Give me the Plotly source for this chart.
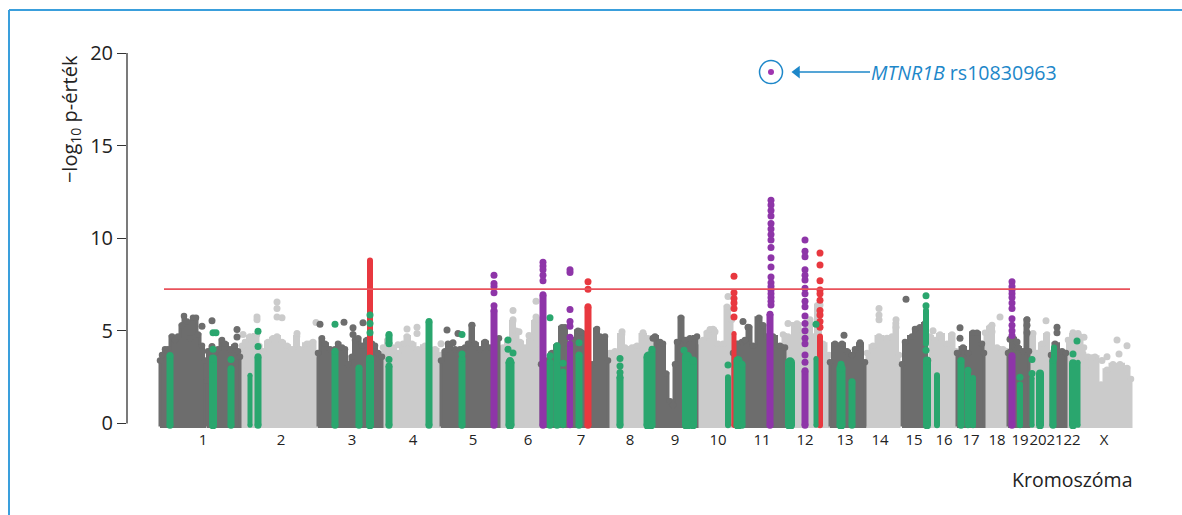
import plotly.graph_objects as go

DARK, LIGHT = "#6d6d6d", "#cbcbcb"
GREEN, PURPLE, RED = "#2aa66e", "#8e35a8", "#e8383f"
BLUE = "#1d87c9"

# --- genome-wide envelope of the association signal per chromosome block (position, -log10 p)
c1a_x = [160,162,165,168,172,175,178,182,184,187,190,193,196,198,202,205]
c1a_y = [3.4,3.7,4.0,4.0,4.7,4.5,4.7,5.3,5.8,5.5,4.6,5.7,5.7,4.8,4.2,3.4]
c1b_x = [207,208,212,215,218,222,225,230,235,238,240]
c1b_y = [2.3,3.9,4.0,3.8,4.0,4.5,4.3,4.0,4.2,3.9,3.6]
c2_x = [241,242,245,250,257,259,263,268,273,277,282,287,292,297,300,307,313,317]
c2_y = [3.0,4.2,4.4,4.7,4.8,4.2,3.9,4.4,4.6,4.7,4.4,4.2,4.0,4.7,4.0,4.3,4.4,3.4]
c3_x = [318,322,325,330,335,338,342,345,348,352,355,358,362,367,372,375,378,382]
c3_y = [3.8,4.6,4.3,4.0,4.0,4.3,4.1,4.0,3.2,3.6,4.5,4.6,4.2,4.5,4.3,4.2,3.8,3.6]
c4_x = [383,388,393,398,403,407,412,418,425,430,435,441]
c4_y = [4.1,4.5,4.1,3.8,4.3,4.7,4.3,4.0,4.2,4.0,4.0,3.7]
c5_x = [441,445,448,455,460,465,468,472,475,480,485,490,495,499]
c5_y = [3.4,3.9,4.3,4.0,4.0,4.1,4.3,5.3,4.3,4.0,4.4,4.1,4.5,4.6]
c6_x = [500,503,508,513,516,520,525,530,535,539,541]
c6_y = [3.9,4.1,4.5,5.5,5.0,4.4,4.1,4.5,5.5,5.6,4.0]
c7_x = [541,547,552,557,562,565,568,573,578,582,587,592,597,600,605,608]
c7_y = [3.2,3.4,3.8,4.2,5.2,5.2,4.3,4.5,5.0,4.9,4.7,3.2,5.1,4.7,4.7,3.4]
c8_x = [608,610,615,622,625,632,637,643,648,653]
c8_y = [3.0,3.8,3.9,4.8,4.1,4.1,4.2,4.8,4.6,4.3]
c9_x = [655,660,663,666,670,673,675,677,681,685,690,697]
c9_y = [4.7,4.4,4.3,2.7,1.2,1.0,3.2,4.4,5.7,4.5,4.6,4.7]
c10_x = [698,703,707,713,718,723,727,732]
c10_y = [4.1,4.5,4.9,5.1,4.3,4.3,6.3,5.6]
c11_x = [733,742,745,749,753,759,763,767,773,780,785]
c11_y = [3.8,4.4,4.5,5.2,4.2,5.7,5.3,4.7,4.7,4.2,4.1]
c12_x = [783,788,797,803,810,813,818,823,829]
c12_y = [4.8,4.7,5.4,5.0,5.4,4.7,6.4,4.3,3.7]
c13_x = [830,835,842,847,852,855,860,865]
c13_y = [3.3,4.3,4.3,3.9,3.7,4.0,4.3,3.3]
c14_x = [867,873,879,887,892,896,899]
c14_y = [3.8,4.2,4.7,4.5,4.7,5.4,3.7]
c15_x = [902,905,912,915,920,925,928]
c15_y = [3.2,4.4,4.7,5.1,5.2,5.4,3.4]
c16_x = [930,935,940,947,952,956]
c16_y = [4.7,4.5,4.8,4.3,4.8,3.9]
c17_x = [957,963,968,973,977,982,984]
c17_y = [3.8,4.1,3.8,4.9,4.9,4.3,3.8]
c18_x = [985,990,997,1003,1007]
c18_y = [4.9,5.2,4.1,4.0,3.9]
c19_x = [1008,1013,1018,1023,1027,1029]
c19_y = [3.8,4.6,4.1,3.9,5.6,3.9]
c20_x = [1030,1032,1037,1042,1047,1050]
c20_y = [3.0,4.8,3.8,4.3,4.8,3.8]
c21_x = [1051,1055,1062,1066]
c21_y = [3.7,4.3,3.9,3.8]
c22_x = [1067,1068,1073,1080,1084]
c22_y = [3.0,4.5,4.8,4.7,4.1]
cX_x = [1085,1088,1095,1101,1107,1113,1120,1127,1131]
cX_y = [3.0,3.6,3.6,2.1,2.9,3.2,3.2,3.0,2.4]

light_blocks = [(c2_x,c2_y),(c4_x,c4_y),(c6_x,c6_y),(c8_x,c8_y),(c10_x,c10_y),(c12_x,c12_y),
                (c14_x,c14_y),(c16_x,c16_y),(c18_x,c18_y),(c20_x,c20_y),(c22_x,c22_y),(cX_x,cX_y)]
dark_blocks = [(c1a_x,c1a_y),(c1b_x,c1b_y),(c3_x,c3_y),(c5_x,c5_y),(c7_x,c7_y),(c9_x,c9_y),
               (c11_x,c11_y),(c13_x,c13_y),(c15_x,c15_y),(c17_x,c17_y),(c19_x,c19_y),(c21_x,c21_y)]

# --- isolated points above the envelope
dark_dots_x = [212,202,237,237,212,320,344,363,353,353,447,453,458,472,580,743,748,653,906,844,860,960,960,1057,1057,1027,1027,1027,1010,1010,1017]
dark_dots_y = [5.55,5.25,5.07,4.67,4.16,5.36,5.47,5.44,5.16,4.8,5.04,4.35,4.85,5.3,4.95,5.5,5.2,4.6,6.7,4.76,4.35,5.16,4.6,5.2,4.9,5.6,5.3,4.9,4.55,3.85,4.4]
light_dots_x = [243,257,257,277,277,277,282,297,316,407,417,417,398,441,513,513,519,529,536,536,622,643,708,710,715,728,788,798,810,820,879,879,879,896,896,887,933,1000,992,992,1046,1033,1117,1119,1127,1073,1078,1084,1083,1092,1102,1107]
light_dots_y = [4.8,5.75,5.6,6.55,6.2,5.75,5.7,4.85,5.45,5.1,5.2,4.85,4.25,4.3,6.1,5.6,4.95,4.75,6.6,5.75,4.95,4.9,4.75,5.07,4.95,6.85,5.4,5.3,5.6,6.4,6.2,5.85,5.6,5.6,5.2,4.6,5.0,5.75,5.3,4.95,5.55,4.85,4.5,3.75,4.2,4.9,4.85,4.65,3.75,3.55,3.4,3.6]

# --- highlighted loci: solid columns (position, width, top)
green_col_x = [170,213,231,250,258,335,359,370,389,389,429,462,510,550,557,563,579,620,649,652,687,693,728,738,742,790,816,841,852,927,926,937,961,968,973,1020,1032,1040,1053,1054,1073,1078]
green_col_w = [7,8,7,5,7,7,7,8,7,7,7,7,9,7,7,6,7,7,11,7,10,8,6,9,7,10,5,9,7,8,6,6,7,6,6,6,5,8,7,6,8,5]
green_col_top = [3.67,3.5,2.95,2.6,3.6,3.9,3.0,3.5,3.1,4.8,5.5,3.5,3.3,3.3,4.2,2.8,3.7,2.5,3.6,4.0,3.6,3.4,2.5,3.4,3.2,3.3,3.5,3.0,2.25,3.4,6.1,2.6,3.4,2.9,2.45,2.1,2.45,2.7,3.4,4.1,3.25,3.3]
green_col_low = [-0.1,-0.1,-0.1,-0.1,-0.1,-0.1,-0.1,-0.1,-0.1,4.3,-0.1,-0.1,-0.1,-0.1,-0.1,-0.1,-0.1,-0.1,-0.1,-0.1,-0.1,-0.1,-0.1,-0.1,-0.1,-0.1,-0.1,-0.1,-0.1,-0.1,4.3,-0.1,-0.1,-0.1,-0.1,-0.1,-0.1,-0.1,-0.1,3.5,-0.1,-0.1]
green_dots_x = [213,213,216,231,258,258,335,370,370,370,389,462,462,508,508,513,510,550,550,563,579,620,620,620,684,728,816,841,926,926,926,968,1020,1032,1032,1073,1077]
green_dots_y = [4.9,4.0,4.9,3.45,4.15,4.98,5.35,5.85,5.4,4.9,3.45,3.75,4.8,4.5,4.0,3.8,3.4,5.7,3.65,3.25,4.35,3.5,3.1,2.75,3.95,3.15,5.35,3.2,6.9,6.35,3.95,2.85,2.5,3.45,2.7,3.75,4.45]

purple_col_x = [494,543,570,770,805,1012]
purple_col_w = [7,7,6,7,7,7]
purple_col_top = [6.1,6.95,4.3,5.9,2.85,3.65]
purple_dots_x = [494,494,494,494,494,543,543,543,543,543,570,570,570,570,570,570,
                 771,771,771,771,771,771,771,771,771,771,771,771,771,771,771,771,771,771,771,
                 805,805,805,805,805,805,805,805,805,805,805,805,805,805,805,805,805,
                 1012,1012,1012,1012,1012,1012,1012,1012,1012,1012,1012]
purple_dots_y = [8.0,7.55,7.4,7.05,6.35,8.7,8.5,8.3,8.0,7.7,8.3,8.15,6.15,5.5,5.25,4.65,
                 12.05,11.8,11.5,11.2,10.8,10.5,10.2,9.9,9.5,8.95,8.45,7.9,7.6,7.4,7.2,7.0,6.8,6.6,6.4,
                 9.9,9.3,9.0,8.3,8.0,7.75,7.3,7.0,6.6,6.3,5.8,5.4,5.0,4.6,4.3,3.7,3.3,
                 7.65,7.4,7.2,7.0,6.8,6.5,6.2,5.65,5.3,5.0,4.75]

red_col_x = [370,588,734,734,820]
red_col_w = [6,7,5,2,6]
red_col_top = [8.8,6.3,4.85,2.5,4.7]
red_dots_x = [588,588,734,734,734,734,734,734,820,820,820,820,820,820,820,820,820,820]
red_dots_y = [7.65,7.25,7.95,7.05,6.75,6.5,6.2,5.75,9.2,8.55,7.7,7.2,7.0,6.65,6.1,5.85,5.5,5.2]

threshold = 7.25
threshold_x = [164,1130]
annot_x, annot_y = 771, 18.97
arrow_x = [870, 797]

chrom_pos = [203,281,352,413,473,528,581,630,675,718,762,805,845,880,914,944,971,997,1020,1038,1055,1072,1104]
chrom_labels = ["1","2","3","4","5","6","7","8","9","10","11","12","13","14","15","16","17","18","19","20","21","22","X"]
y_ticks = [0,5,10,15,20]

FONT = "Open Sans"
W, H = 1182, 515
L, R, T, Y0 = 127, 1140, 53, 423
unit = (Y0 - T) / 20
ymin = -0.3
B = Y0 - ymin * unit

fig = go.Figure()

def block(x, y, color):
    base = -0.16
    fig.add_trace(go.Scatter(x=[x[0]] + x + [x[-1], x[0]], y=[base] + y + [base, base],
                             mode="lines", fill="toself", fillcolor=color,
                             line=dict(color=color, width=3, shape="hvh"), hoverinfo="skip", showlegend=False))
    fig.add_trace(go.Scatter(x=x, y=y, mode="markers", marker=dict(color=color, size=6.5, line=dict(width=0)),
                             hoverinfo="skip", showlegend=False))

def dots(x, y, color, size=7):
    fig.add_trace(go.Scatter(x=x, y=y, mode="markers", marker=dict(color=color, size=size, line=dict(width=0)),
                             hoverinfo="skip", showlegend=False))

def column(x, w, top, color, low=-0.1):
    fig.add_trace(go.Scatter(x=[x, x], y=[low, top], mode="lines+markers",
                             line=dict(color=color, width=w),
                             marker=dict(color=color, size=w, line=dict(width=0)),
                             hoverinfo="skip", showlegend=False))

for x, y in light_blocks:
    block(x, y, LIGHT)
dots(light_dots_x, light_dots_y, LIGHT)
for x, y in dark_blocks:
    block(x, y, DARK)
dots(dark_dots_x, dark_dots_y, DARK)
for x, w, t in zip(red_col_x, red_col_w, red_col_top):
    column(x, w, t, RED)
dots(red_dots_x, red_dots_y, RED)
for x, w, t, lo in zip(green_col_x, green_col_w, green_col_top, green_col_low):
    column(x, w, t, GREEN, lo)
dots(green_dots_x, green_dots_y, GREEN)
for x, w, t in zip(purple_col_x, purple_col_w, purple_col_top):
    column(x, w, t, PURPLE)
dots(purple_dots_x, purple_dots_y, PURPLE)

# highlighted lead variant: point, ring and arrow
fig.add_trace(go.Scatter(x=[annot_x], y=[annot_y], mode="markers",
                         marker=dict(size=6, color="#a035b0", line=dict(width=0)),
                         hoverinfo="skip", showlegend=False))
fig.add_trace(go.Scatter(x=[annot_x], y=[annot_y], mode="markers",
                         marker=dict(size=23, color="rgba(0,0,0,0)", line=dict(color=BLUE, width=1.5)),
                         hoverinfo="skip", showlegend=False))
fig.add_trace(go.Scatter(x=arrow_x, y=[annot_y, annot_y], mode="lines",
                         line=dict(color=BLUE, width=1.5), hoverinfo="skip", showlegend=False))
fig.add_trace(go.Scatter(x=[arrow_x[1]], y=[annot_y], mode="markers",
                         marker=dict(symbol="triangle-left", size=11, color=BLUE, line=dict(width=0)),
                         hoverinfo="skip", showlegend=False))

px = lambda v: (v - L) / (R - L)
py = lambda v: 1 - (v - T) / (B - T)

fig.update_layout(
    width=W, height=H, margin=dict(l=L, r=W - R, t=T, b=H - B),
    paper_bgcolor="white", plot_bgcolor="white", showlegend=False,
    font=dict(family=FONT, color="#222222"),
    xaxis=dict(range=[L, R], showgrid=False, zeroline=False, showline=False, ticks="",
               tickmode="array", tickvals=chrom_pos, ticktext=chrom_labels, tickangle=0,
               tickfont=dict(size=15, family=FONT, color="#222222")),
    yaxis=dict(range=[ymin, 20], showgrid=False, zeroline=False, showline=False, ticks="outside",
               ticklen=9, tickwidth=1.3, tickcolor="#333333", tickmode="array", tickvals=y_ticks,
               tickfont=dict(size=20, family=FONT, color="#222222")),
    shapes=[
        dict(type="line", xref="paper", yref="y", x0=0, x1=0, y0=0, y1=20, line=dict(color="#333333", width=1.3)),
        dict(type="line", xref="x", yref="y", x0=threshold_x[0], x1=threshold_x[1], y0=threshold, y1=threshold,
             line=dict(color="#e9525b", width=1.8)),
        dict(type="line", xref="paper", yref="paper", x0=px(9), x1=px(1182), y0=py(10), y1=py(10),
             line=dict(color="#3a9fdc", width=2)),
        dict(type="line", xref="paper", yref="paper", x0=px(9), x1=px(9), y0=py(10), y1=py(515),
             line=dict(color="#3a9fdc", width=2)),
    ],
    annotations=[
        dict(xref="paper", yref="paper", x=px(70), y=py(119), text="−log<sub>10</sub> p-érték", textangle=-90,
             xanchor="center", yanchor="middle",
             showarrow=False, font=dict(size=20, family=FONT, color="#222222")),
        dict(xref="paper", yref="paper", x=px(1134), y=py(479), text="Kromoszóma", xanchor="right", yanchor="middle",
             showarrow=False, font=dict(size=19.5, family=FONT, color="#222222")),
        dict(xref="paper", yref="y", x=px(869), y=annot_y, text="<i>MTNR1B</i> rs10830963", xanchor="left", yanchor="middle",
             showarrow=False, font=dict(size=19.6, family=FONT, color=BLUE)),
    ],
)

fig.write_html("out.html", config={"displayModeBar": False}, post_script="document.body.style.margin='0';")
